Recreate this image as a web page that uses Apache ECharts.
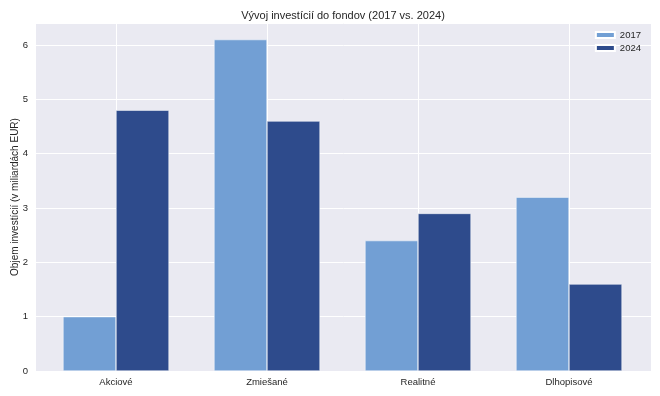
<!DOCTYPE html>
<html>
<head>
<meta charset="utf-8">
<script src="https://cdn.jsdelivr.net/npm/echarts@6/dist/echarts.min.js"></script>
<style>html,body{margin:0;padding:0;background:#fff}#c{width:660px;height:396px}</style>
</head>
<body>
<div id="c"></div>
<script>
const categories = ['Akciové', 'Zmiešané', 'Realitné', 'Dlhopisové'];
const values2017 = [1.0, 6.1, 2.4, 3.2];
const values2024 = [4.8, 4.6, 2.9, 1.6];
const seriesNames = ['2017', '2024'];
const yMax = 6.405;

const font = 'Liberation Sans, Arial, sans-serif';
const chart = echarts.init(document.getElementById('c'), null, {renderer: 'canvas'});
chart.setOption({
  animation: false,
  backgroundColor: '#ffffff',
  textStyle: {fontFamily: font},
  title: {
    text: 'Vývoj investícií do fondov (2017 vs. 2024)',
    left: 338, top: 5, textAlign: 'center',
    textStyle: {fontSize: 11, fontWeight: 'normal', color: '#262626', fontFamily: font}
  },
  legend: {
    data: seriesNames,
    orient: 'vertical',
    right: 14, top: 25,
    itemWidth: 19, itemHeight: 6, itemGap: 3,
    icon: 'rect',
    textStyle: {fontSize: 9.5, color: '#262626', fontFamily: font}
  },
  grid: [
    {left: 36, right: 9, top: 23, bottom: 25, show: true, backgroundColor: '#EAEAF2', borderWidth: 0,
     containLabel: false, outerBoundsMode: 'none'},
    {left: 116, right: 91, top: 23, bottom: 25, containLabel: false, outerBoundsMode: 'none'}
  ],
  xAxis: [
    {type: 'value', gridIndex: 0, min: 0, max: 1, show: false},
    {type: 'category', gridIndex: 1, data: categories, boundaryGap: false,
     axisLine: {show: false}, axisTick: {show: false},
     axisLabel: {color: '#262626', fontSize: 9.5, margin: 6, fontFamily: font},
     splitLine: {show: true, lineStyle: {color: '#ffffff', width: 1}}}
  ],
  yAxis: [
    {type: 'value', gridIndex: 0, min: 0, max: yMax, interval: 1,
     name: 'Objem investícií (v miliardách EUR)', nameLocation: 'middle', nameGap: 16,
     nameMoveOverlap: false,
     nameTextStyle: {fontSize: 10, color: '#262626', fontFamily: font},
     axisLine: {show: false}, axisTick: {show: false},
     axisLabel: {color: '#262626', fontSize: 9.5, margin: 8, showMaxLabel: false,
       formatter: v => (Math.abs(v - Math.round(v)) < 1e-9 ? String(Math.round(v)) : '')},
     splitLine: {show: true, lineStyle: {color: '#ffffff', width: 1}}},
    {type: 'value', gridIndex: 1, min: 0, max: yMax, show: false, splitLine: {show: false}}
  ],
  series: [
    {name: seriesNames[0], type: 'bar', xAxisIndex: 1, yAxisIndex: 1, data: values2017,
     barWidth: 53, barGap: '0%', clip: false,
     itemStyle: {color: '#729FD4', borderColor: '#ffffff', borderWidth: 0.5}},
    {name: seriesNames[1], type: 'bar', xAxisIndex: 1, yAxisIndex: 1, data: values2024,
     barWidth: 53, barGap: '0%', clip: false,
     itemStyle: {color: '#2E4B8C', borderColor: '#ffffff', borderWidth: 0.5}}
  ]
});
</script>
</body>
</html>
